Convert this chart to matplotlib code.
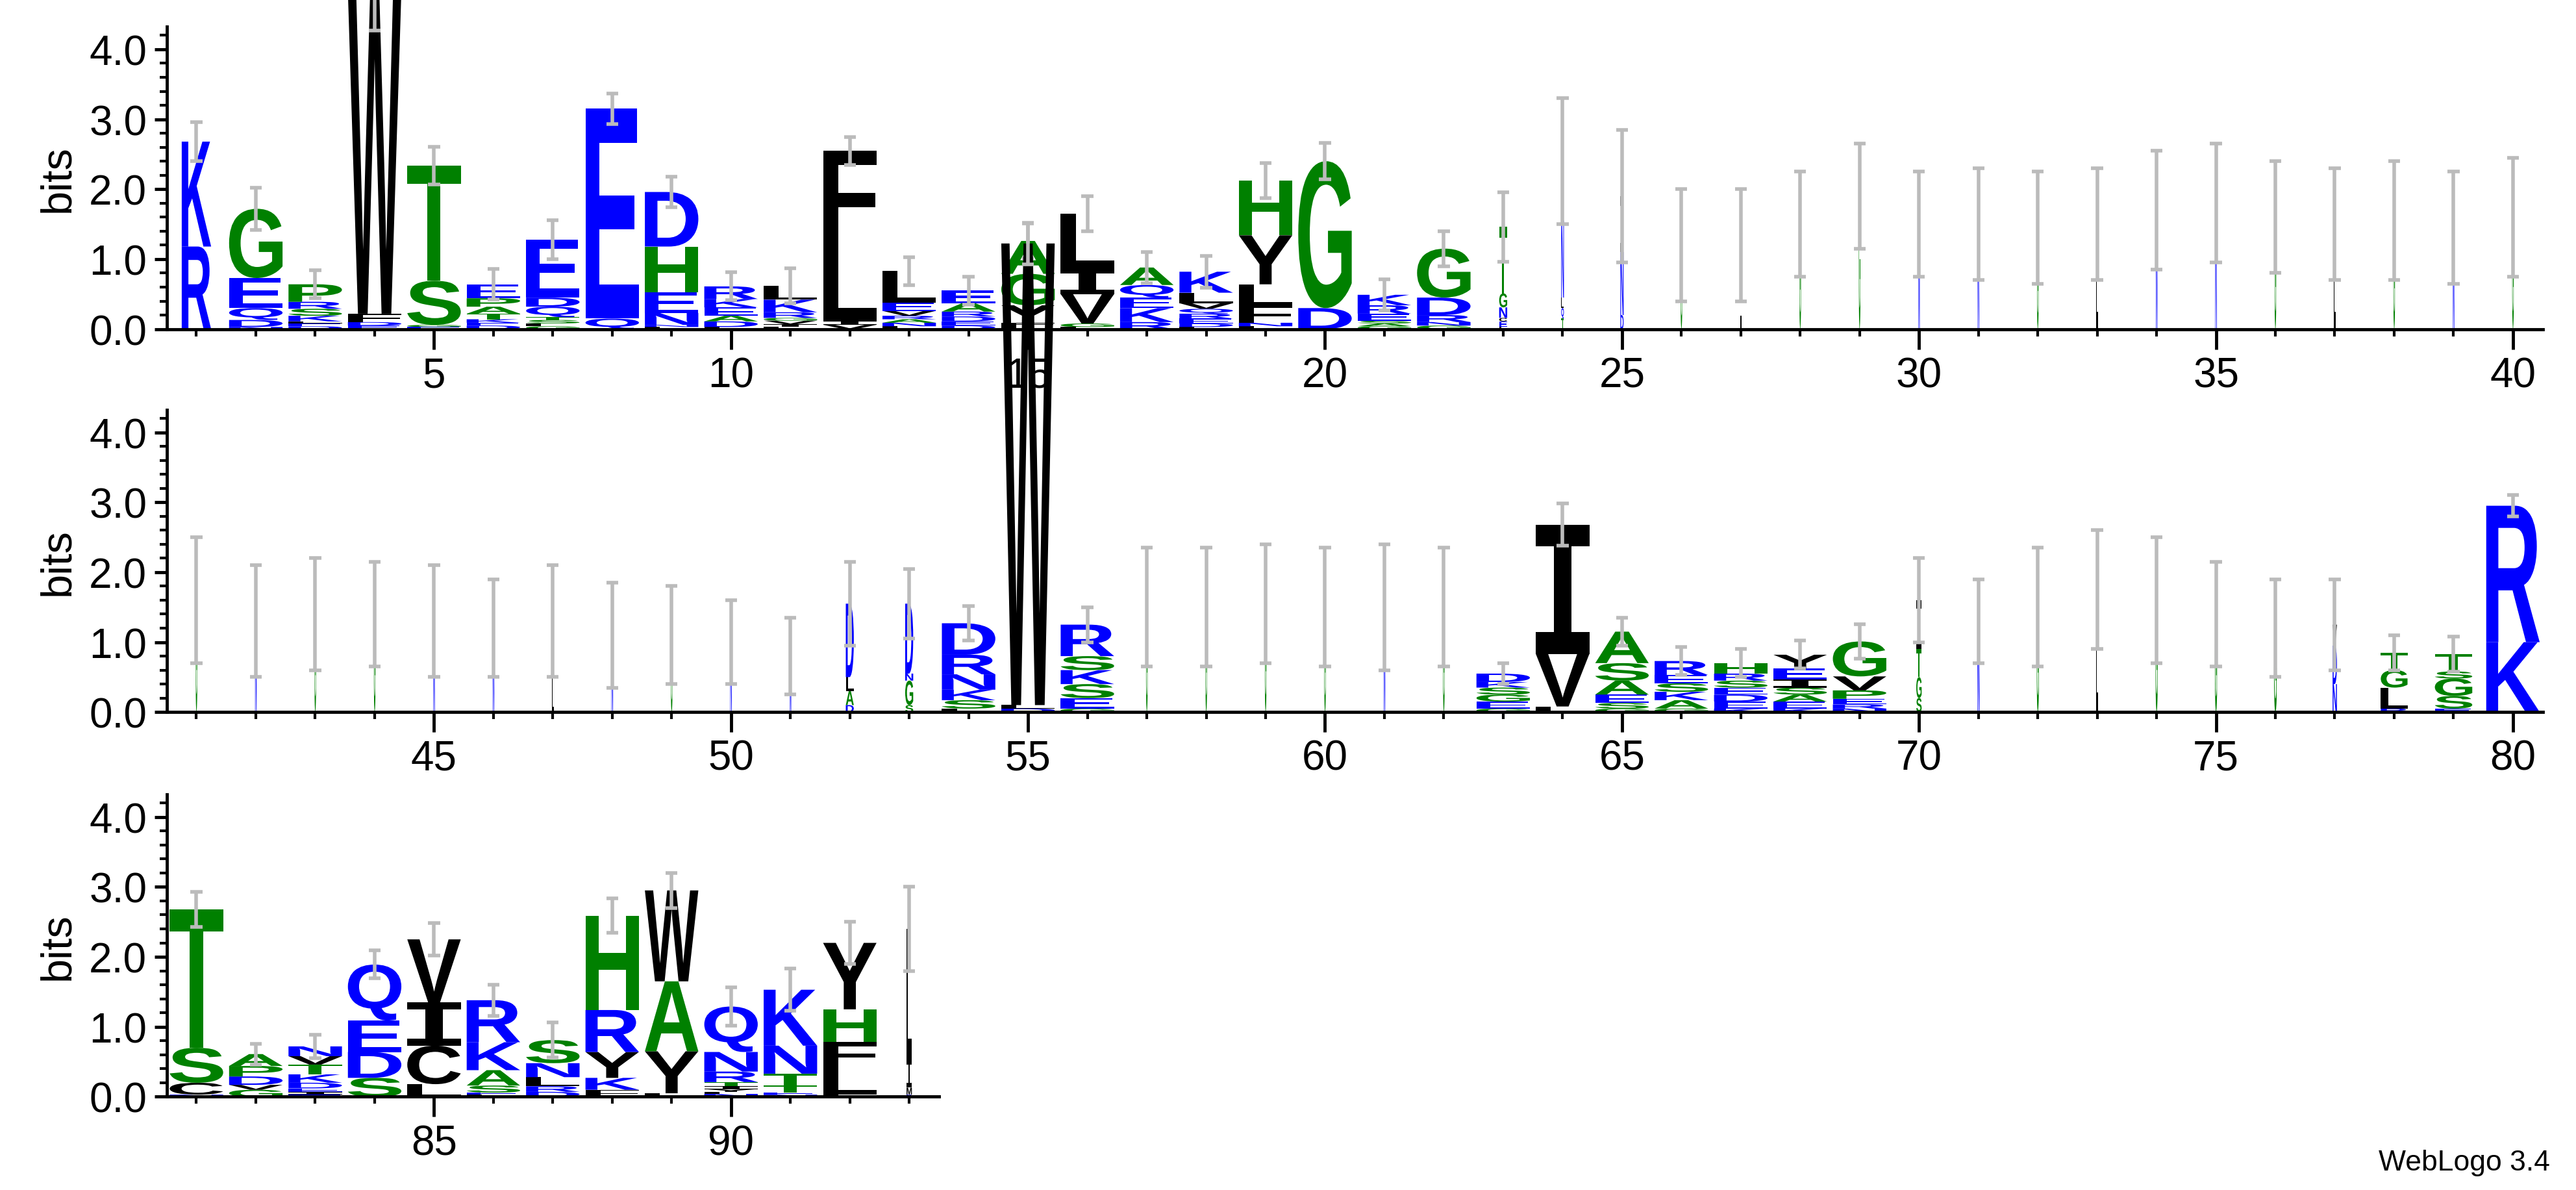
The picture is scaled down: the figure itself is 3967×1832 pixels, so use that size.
import matplotlib
matplotlib.use("Agg")
import matplotlib.pyplot as plt
from matplotlib.textpath import TextPath
from matplotlib.patches import PathPatch
from matplotlib.font_manager import FontProperties
from matplotlib.transforms import Affine2D
from matplotlib.ticker import MultipleLocator

plt.rcParams['font.family'] = ['Liberation Sans', 'DejaVu Sans']

# stacks bottom -> top, "Letter:bits"
stacks = [
 "R:1.18,K:1.5",                                  # 1
 "N:0.03,D:0.1,Q:0.17,E:0.43,G:0.99",             # 2
 "D:0.04,E:0.04,L:0.03,K:0.08,S:0.1,R:0.1,P:0.25",# 3
 "E:0.05,D:0.05,F:0.12,W:4.6",                    # 4
 "E:0.03,G:0.03,S:0.63,T:1.65",                   # 5
 "D:0.05,E:0.04,K:0.05,T:0.08,A:0.1,P:0.12,E:0.2",# 6
 "G:0.04,L:0.04,S:0.05,T:0.04,Q:0.15,D:0.13,E:0.83",# 7
 "Q:0.15,E:3.0",                                  # 8
 "L:0.03,N:0.03,N:0.17,E:0.3,H:0.65,D:0.78",      # 9
 "L:0.03,D:0.08,A:0.08,E:0.12,K:0.12,R:0.18",     # 10
 "L:0.03,I:0.04,V:0.05,G:0.04,R:0.08,K:0.18,L:0.2",# 11
 "V:0.06,I:0.06,L:1.15,F:1.28",                   # 12
 "L:0.04,N:0.05,A:0.05,R:0.05,V:0.07,E:0.12,L:0.45",# 13
 "D:0.05,E:0.06,D:0.07,R:0.07,A:0.12,E:0.18",     # 14
 "L:0.04,F:0.05,Y:0.25,G:0.45,A:0.47",            # 15
 "L:0.03,G:0.05,V:0.42,I:0.35,L:0.8",             # 16
 "R:0.1,K:0.2,E:0.15,Q:0.18,A:0.25",              # 17
 "L:0.03,D:0.05,E:0.07,R:0.07,Q:0.07,V:0.08,L:0.15,K:0.3",# 18
 "L:0.04,N:0.05,F:0.25,L:0.3,Y:0.7,H:0.78",       # 19
 "D:0.3,G:2.1",                                   # 20
 "G:0.04,A:0.04,S:0.04,E:0.1,R:0.12,K:0.15",      # 21
 "G:0.05,N:0.05,R:0.1,D:0.25,G:0.7",              # 22
 "L:0.03,E:0.08,C:0.05,N:0.15,G:0.2,T:0.95",      # 23
 "T:0.15,Q:0.15,L:0.15,N:1.1,I:0.5,L:0.35",       # 24
 "D:0.2,N:0.9,I:0.8",                             # 25
 "G:1.2", "L:1.2", "G:1.5", "G:1.9", "N:1.5", "N:1.5", "G:1.45",
 "L:1.5", "N:1.7", "N:1.8", "G:1.6", "L:1.5", "G:1.55", "N:1.45", "G:1.6",  # 26-40
 "G:1.6", "N:1.3", "G:1.4", "G:1.4", "N:1.3", "N:1.2", "L:0.5,N:0.8", "N:1.1",
 "G:1.1", "N:1.0", "N:0.8",                       # 41-51
 "D:0.1,A:0.2,L:0.2,D:1.05",                      # 52
 "S:0.1,G:0.35,N:0.1,D:1.0",                      # 53
 "L:0.05,S:0.12,K:0.15,N:0.22,R:0.28,D:0.45",     # 54
 "D:0.05,L:0.05,W:6.6",                           # 55
 "G:0.05,E:0.15,S:0.2,K:0.2,S:0.2,R:0.45",        # 56
 "G:1.5", "G:1.5", "G:1.55", "G:1.5", "N:1.5", "G:1.5",   # 57-62
 "G:0.05,E:0.1,G:0.1,S:0.1,K:0.08,D:0.12",        # 63
 "L:0.08,V:0.75,I:1.85",                          # 64
 "G:0.05,S:0.08,E:0.12,A:0.2,S:0.25,A:0.45",      # 65
 "G:0.05,A:0.12,K:0.12,S:0.12,E:0.12,R:0.2",      # 66
 "K:0.05,E:0.1,D:0.1,E:0.1,S:0.1,R:0.1,H:0.15",   # 67
 "K:0.05,E:0.1,A:0.1,S:0.1,I:0.12,E:0.15,Y:0.2",  # 68
 "N:0.05,R:0.06,E:0.08,P:0.12,V:0.2,G:0.5",       # 69
 "S:0.2,G:0.3,T:0.4,I:0.7",                       # 70
 "N:1.3", "G:1.5", "L:1.75", "G:1.6", "G:1.4", "G:1.2", "N:0.4,D:0.55,V:0.3",  # 71-77
 "R:0.05,L:0.3,G:0.25,T:0.25",                    # 78
 "E:0.05,S:0.18,G:0.25,S:0.1,T:0.25",             # 79
 "K:1.0,R:1.95",                                  # 80
 "N:0.03,C:0.17,S:0.5,T:1.98",                    # 81
 "G:0.1,V:0.07,D:0.12,P:0.15,A:0.17",             # 82
 "E:0.03,I:0.04,E:0.05,D:0.08,K:0.12,T:0.14,V:0.12,N:0.14",  # 83
 "S:0.27,D:0.37,E:0.45,Q:0.8",                    # 84
 "L:0.18,C:0.55,I:0.62,V:0.9",                    # 85
 "L:0.03,E:0.03,S:0.1,A:0.22,K:0.4,R:0.6",        # 86
 "D:0.07,R:0.08,L:0.13,N:0.2,S:0.33",             # 87
 "F:0.1,K:0.17,Y:0.37,R:0.6,H:1.35",              # 88
 "L:0.05,Y:0.6,A:1.0,W:1.3",                      # 89
 "N:0.04,L:0.03,Y:0.04,I:0.04,T:0.06,R:0.15,N:0.28,Q:0.65",  # 90
 "N:0.03,E:0.03,T:0.1,T:0.17,N:0.4,K:0.8",        # 91
 "L:0.03,L:0.4,F:0.35,H:0.47,Y:0.95",             # 92
 "R:0.03,M:0.1,I:0.4,L:1.87",                     # 93
]
errors = [0.28,0.3,0.2,0.55,0.27,0.22,0.28,0.22,0.22,0.2,0.25,0.2,0.2,0.2,0.25,0.25,0.22,0.23,0.25,0.26,
          0.22,0.25,0.5,0.9,0.95,0.8,0.8,0.75,0.75,0.75,0.8,0.8,0.8,0.85,0.85,0.8,0.8,0.85,0.8,0.85,
          0.9,0.8,0.8,0.75,0.8,0.7,0.8,0.75,0.7,0.6,0.55,0.6,0.5,0.25,0.3,0.25,0.85,0.85,0.85,0.85,
          0.9,0.85,0.15,0.3,0.2,0.2,0.2,0.2,0.25,0.6,0.6,0.85,0.85,0.9,0.75,0.7,0.65,0.25,0.25,0.15,
          0.25,0.15,0.17,0.2,0.23,0.22,0.25,0.25,0.25,0.27,0.3,0.3,0.6]
widths = ([0.55] + [1] * 21 + [0.15, 0.05, 0.06] + [0.03] * 26 + [0.15, 0.15, 1, 1, 1] + [0.03] * 6
          + [1] * 7 + [0.1, 0.04, 0.04, 0.04, 0.04, 0.04, 0.05, 0.08] + [0.5, 0.7, 1] + [1] * 12 + [0.1])

COL = {}
for c in "RKDENQ": COL[c] = "#0000FF"
for c in "SGHTAP": COL[c] = "#008000"
for c in "YVMCLFIW": COL[c] = "#000000"

fp = FontProperties(family="Liberation Sans", weight="bold")
fp_i = FontProperties(family="Liberation Mono", weight="bold")
cache = {}
def glyph(ch):
    if ch not in cache:
        cache[ch] = TextPath((0, 0), ch, size=1, prop=fp_i if ch == "I" else fp)
    return cache[ch]

def draw_letter(ax, ch, x, y0, w, h):
    p = glyph(ch)
    ext = p.get_extents()
    t = Affine2D().translate(-ext.x0, -ext.y0).scale(w / ext.width, h / ext.height).translate(x - w / 2, y0)
    ax.add_patch(PathPatch(t.transform_path(p), facecolor=COL[ch], edgecolor="none",
                           transform=ax.transData, clip_on=False, zorder=2))

W, H = 3967, 1833
fig = plt.figure(figsize=(W / 100, H / 100), dpi=100)
L = 100 / 1545
pw = (1525 - 100) / 1545 / 40
rows = [(1, 40, 1 - 198 / 715), (41, 80, 1 - 428 / 715), (81, 93, 1 - 659 / 715)]
ymax = 4.32
hfrac = ymax * 42 / 715
for (a, b, bot) in rows:
    n = b - a + 1
    ax = fig.add_axes([L, bot, pw * n, hfrac])
    ax.set_xlim(a - 0.5, b + 0.5)
    ax.set_ylim(0, ymax)
    for s in ["top", "right"]:
        ax.spines[s].set_visible(False)
    for s in ["left", "bottom"]:
        ax.spines[s].set_linewidth(3.5)
    ax.patch.set_alpha(0)
    for pos in range(a, b + 1):
        i = pos - 1
        y = 0
        lw = 0.9 * widths[i]
        for item in stacks[i].split(","):
            ch, v = item.split(":")
            v = float(v)
            draw_letter(ax, ch, pos, y, lw, v)
            y += v
        e = errors[i]
        ax.plot([pos, pos], [y - e, y + e], color="#bbbbbb", lw=4, zorder=3, clip_on=False,
                solid_capstyle="butt")
        for yy in (y - e, y + e):
            ax.plot([pos - 0.1, pos + 0.1], [yy, yy], color="#bbbbbb", lw=4, zorder=3,
                    clip_on=False, solid_capstyle="butt")
    ax.xaxis.set_major_locator(MultipleLocator(5))
    ax.xaxis.set_minor_locator(MultipleLocator(1))
    ax.yaxis.set_minor_locator(MultipleLocator(0.2))
    ax.set_yticks([0, 1, 2, 3, 4])
    ax.set_yticklabels(["0.0", "1.0", "2.0", "3.0", "4.0"])
    ax.tick_params(axis="both", which="major", labelsize=46, width=3.5, length=14, direction="out", pad=8)
    ax.tick_params(axis="both", which="minor", width=3, length=8, direction="out")
    ax.tick_params(axis="x", which="major", length=22)
    ax.set_ylabel("bits", fontsize=48, labelpad=12)
    ax.set_zorder(5 if a == 41 else 1)

fig.text(0.99, 0.012, "WebLogo 3.4", ha="right", va="bottom", fontsize=32)
fig.savefig("out.png", dpi=100)
